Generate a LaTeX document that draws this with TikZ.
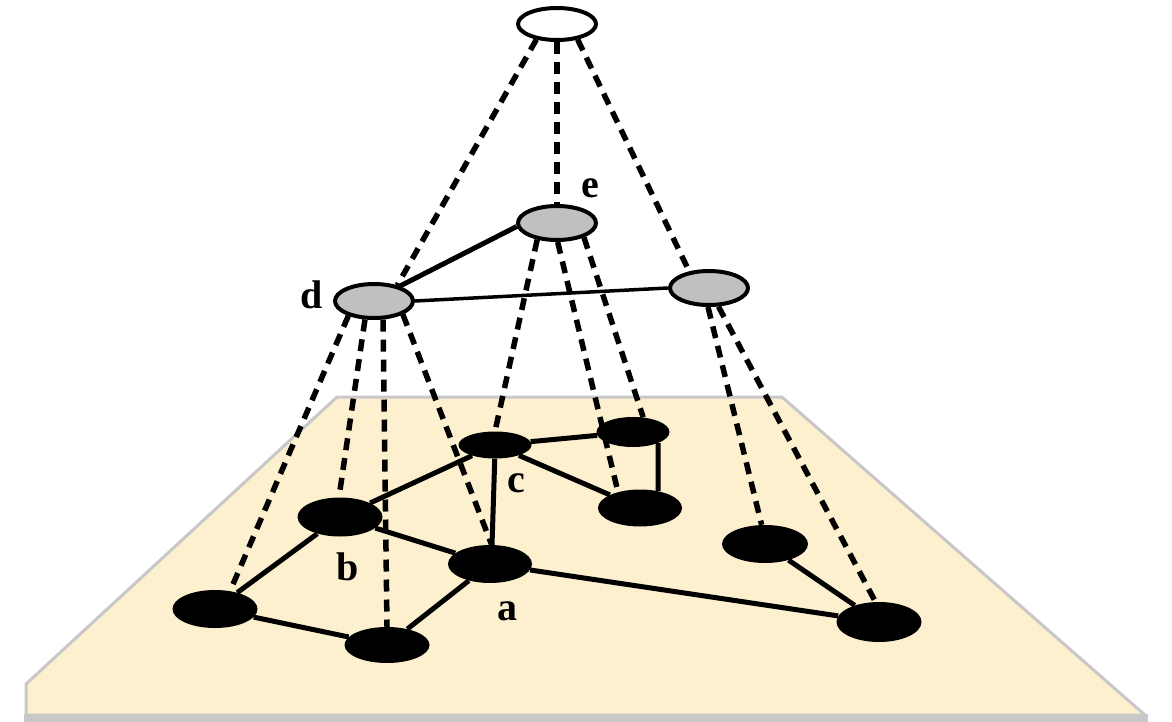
\documentclass[tikz,border=0pt]{standalone}
\usepackage{fontspec}
\setmainfont{Liberation Serif}
\usetikzlibrary{shapes.geometric,calc}
\definecolor{planefill}{RGB}{253,240,207}
\definecolor{planeedge}{RGB}{200,200,200}
\definecolor{gnode}{RGB}{192,192,192}
\begin{document}
\begin{tikzpicture}[x=1pt,y=-1pt,
  blk/.style={ellipse,fill=black,inner sep=0pt},
  grn/.style={ellipse,draw=black,line width=4pt,fill=gnode,inner sep=0pt,minimum width=78pt,minimum height=34pt},
  wht/.style={ellipse,draw=black,line width=4pt,fill=white,inner sep=0pt,minimum width=78pt,minimum height=32pt},
  proj/.style={line width=5.5pt,dash pattern=on 12pt off 8pt},
  edge/.style={line width=5pt},
  lab/.style={font=\fontsize{40}{44}\selectfont\bfseries,inner sep=0pt,anchor=base}]
\useasboundingbox (0,0) rectangle (1172,722);
% plane
\fill[planeedge] (24,714) rectangle (1148,722);
\filldraw[fill=planefill,draw=planeedge,line width=3pt,line join=round]
  (337,397) -- (782,397) -- (1145,715) -- (26,715) -- (26,684) -- cycle;
% nodes
\node[wht] (top) at (557,24) {};
\node[grn] (e) at (557,223) {};
\node[grn] (d) at (374,301) {};
\node[grn] (g) at (709,288) {};
\node[blk,minimum width=73pt,minimum height=27pt] (c) at (495,445) {};
\node[blk,minimum width=73pt,minimum height=30pt] (tr) at (633,432) {};
\node[blk,minimum width=84pt,minimum height=37pt] (mr) at (640,508) {};
\node[blk,minimum width=85pt,minimum height=39pt] (b) at (340,517) {};
\node[blk,minimum width=84pt,minimum height=38pt] (a) at (490,564) {};
\node[blk,minimum width=85pt,minimum height=38pt] (bl) at (215,609) {};
\node[blk,minimum width=85pt,minimum height=36pt] (bt) at (387,645) {};
\node[blk,minimum width=86pt,minimum height=38pt] (rn) at (765,544) {};
\node[blk,minimum width=85pt,minimum height=40pt] (fr) at (879,622) {};
% projection (dashed) lines
\draw[proj] (top.-143) -- (d.34);
\draw[proj] (top.south) -- (e.north);
\draw[proj] (top.-37) -- (g.140);
\draw[proj] (e.-140) -- (c.north);
\draw[proj] (e.-88) -- (mr.144);
\draw[proj] (e.-28) -- (tr.55);
\draw[proj] (d.-150) -- (bl.50);
\draw[proj] (d.-116) -- (b.93);
\draw[proj] (d.-64) -- (bt.north);
\draw[proj] (d.-25) -- (a.85);
\draw[proj] (g.-93) -- (rn.100);
\draw[proj] (g.-63) -- (fr.100);
% solid edges
\draw[edge] (d.30) -- (e.185);
\draw[line width=3.5pt] (d.east) -- (g.west);
\draw[edge] (c) -- (b);
\draw[edge] (c) -- (tr);
\draw[edge] (c) -- (mr);
\draw[edge] (tr.-24) -- (mr.43);
\draw[edge] (c.-91) -- (a.84);
\draw[edge] (b) -- (a);
\draw[edge] (b) -- (bl);
\draw[edge] (bl) -- (bt);
\draw[edge] (bt) -- (a);
\draw[edge] (a) -- (fr);
\draw[edge] (rn) -- (fr);
% labels
\node[lab] (le) at (590,198) {e};
\node[lab] (ld) at (312,308) {d};
\node[lab] (lc) at (516,492) {c};
\node[lab] (lb) at (348,580) {b};
\node[lab] (la) at (507,620) {a};
\end{tikzpicture}
\end{document}
